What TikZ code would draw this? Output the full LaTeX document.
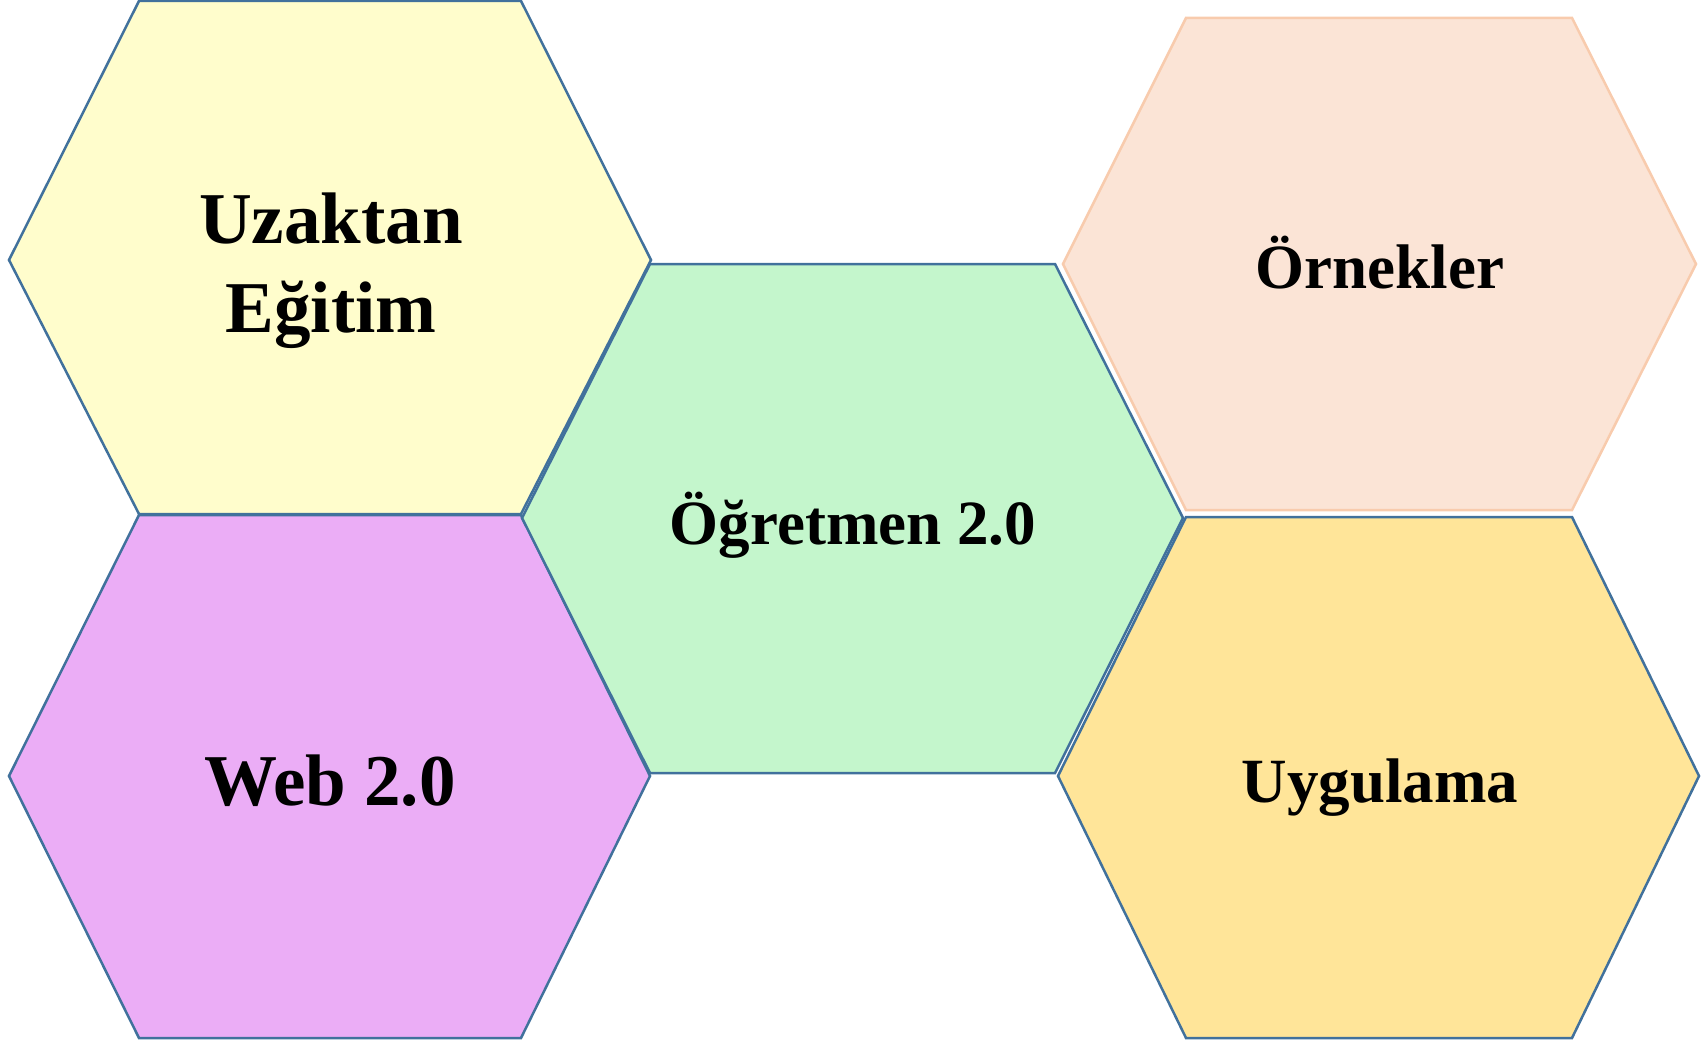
\documentclass[tikz,border=0pt]{standalone}
\usepackage{fontspec}
\setmainfont{Liberation Serif}
\begin{document}
\begin{tikzpicture}[x=0.5pt, y=-0.5pt]
\definecolor{hexline}{HTML}{41719C}
\definecolor{lemon}{HTML}{FFFDCC}
\definecolor{lilac}{HTML}{EBADF6}
\definecolor{mint}{HTML}{C4F6CC}
\definecolor{peach}{HTML}{FBE4D6}
\definecolor{peachline}{HTML}{F8CBAD}
\definecolor{gold}{HTML}{FFE599}
\tikzset{
  hexcell/.style={draw=hexline, line width=1.25pt, line join=miter},
  biglabel/.style={anchor=base, inner sep=0pt, font=\bfseries\fontsize{36.5}{44.5}\selectfont, align=center},
  smalllabel/.style={anchor=base, inner sep=0pt, font=\bfseries\fontsize{31.5}{38}\selectfont}
}
\useasboundingbox (0,0) rectangle (1701,1043);
% hexagonal cells
\path[hexcell, fill=lemon] (139,1) -- (521,1) -- (651,260) -- (521,514) -- (139,514) -- (9,260) -- cycle;
\path[hexcell, fill=lilac] (139,515) -- (521,515) -- (650,776) -- (521,1038) -- (139,1038) -- (9,776) -- cycle;
\path[hexcell, fill=mint] (650,264) -- (1055,264) -- (1183,518) -- (1055,773) -- (650,773) -- (522,518) -- cycle;
\path[hexcell, draw=peachline, fill=peach] (1186,18) -- (1572,18) -- (1696,264) -- (1572,510) -- (1186,510) -- (1063,264) -- cycle;
\path[hexcell, fill=gold] (1186,517) -- (1572,517) -- (1699,776) -- (1572,1038) -- (1186,1038) -- (1058,776) -- cycle;
% labels (a two-line node sits on the baseline of its last line)
\node[biglabel] (uzaktan) at (331,332) {Uzaktan\\Eğitim};
\node[biglabel] (web) at (330,805) {Web 2.0};
\node[smalllabel] (ogretmen) at (853,544) {Öğretmen 2.0};
\node[smalllabel] (ornekler) at (1380,288) {Örnekler};
\node[smalllabel] (uygulama) at (1380,802) {Uygulama};
\end{tikzpicture}
\end{document}
